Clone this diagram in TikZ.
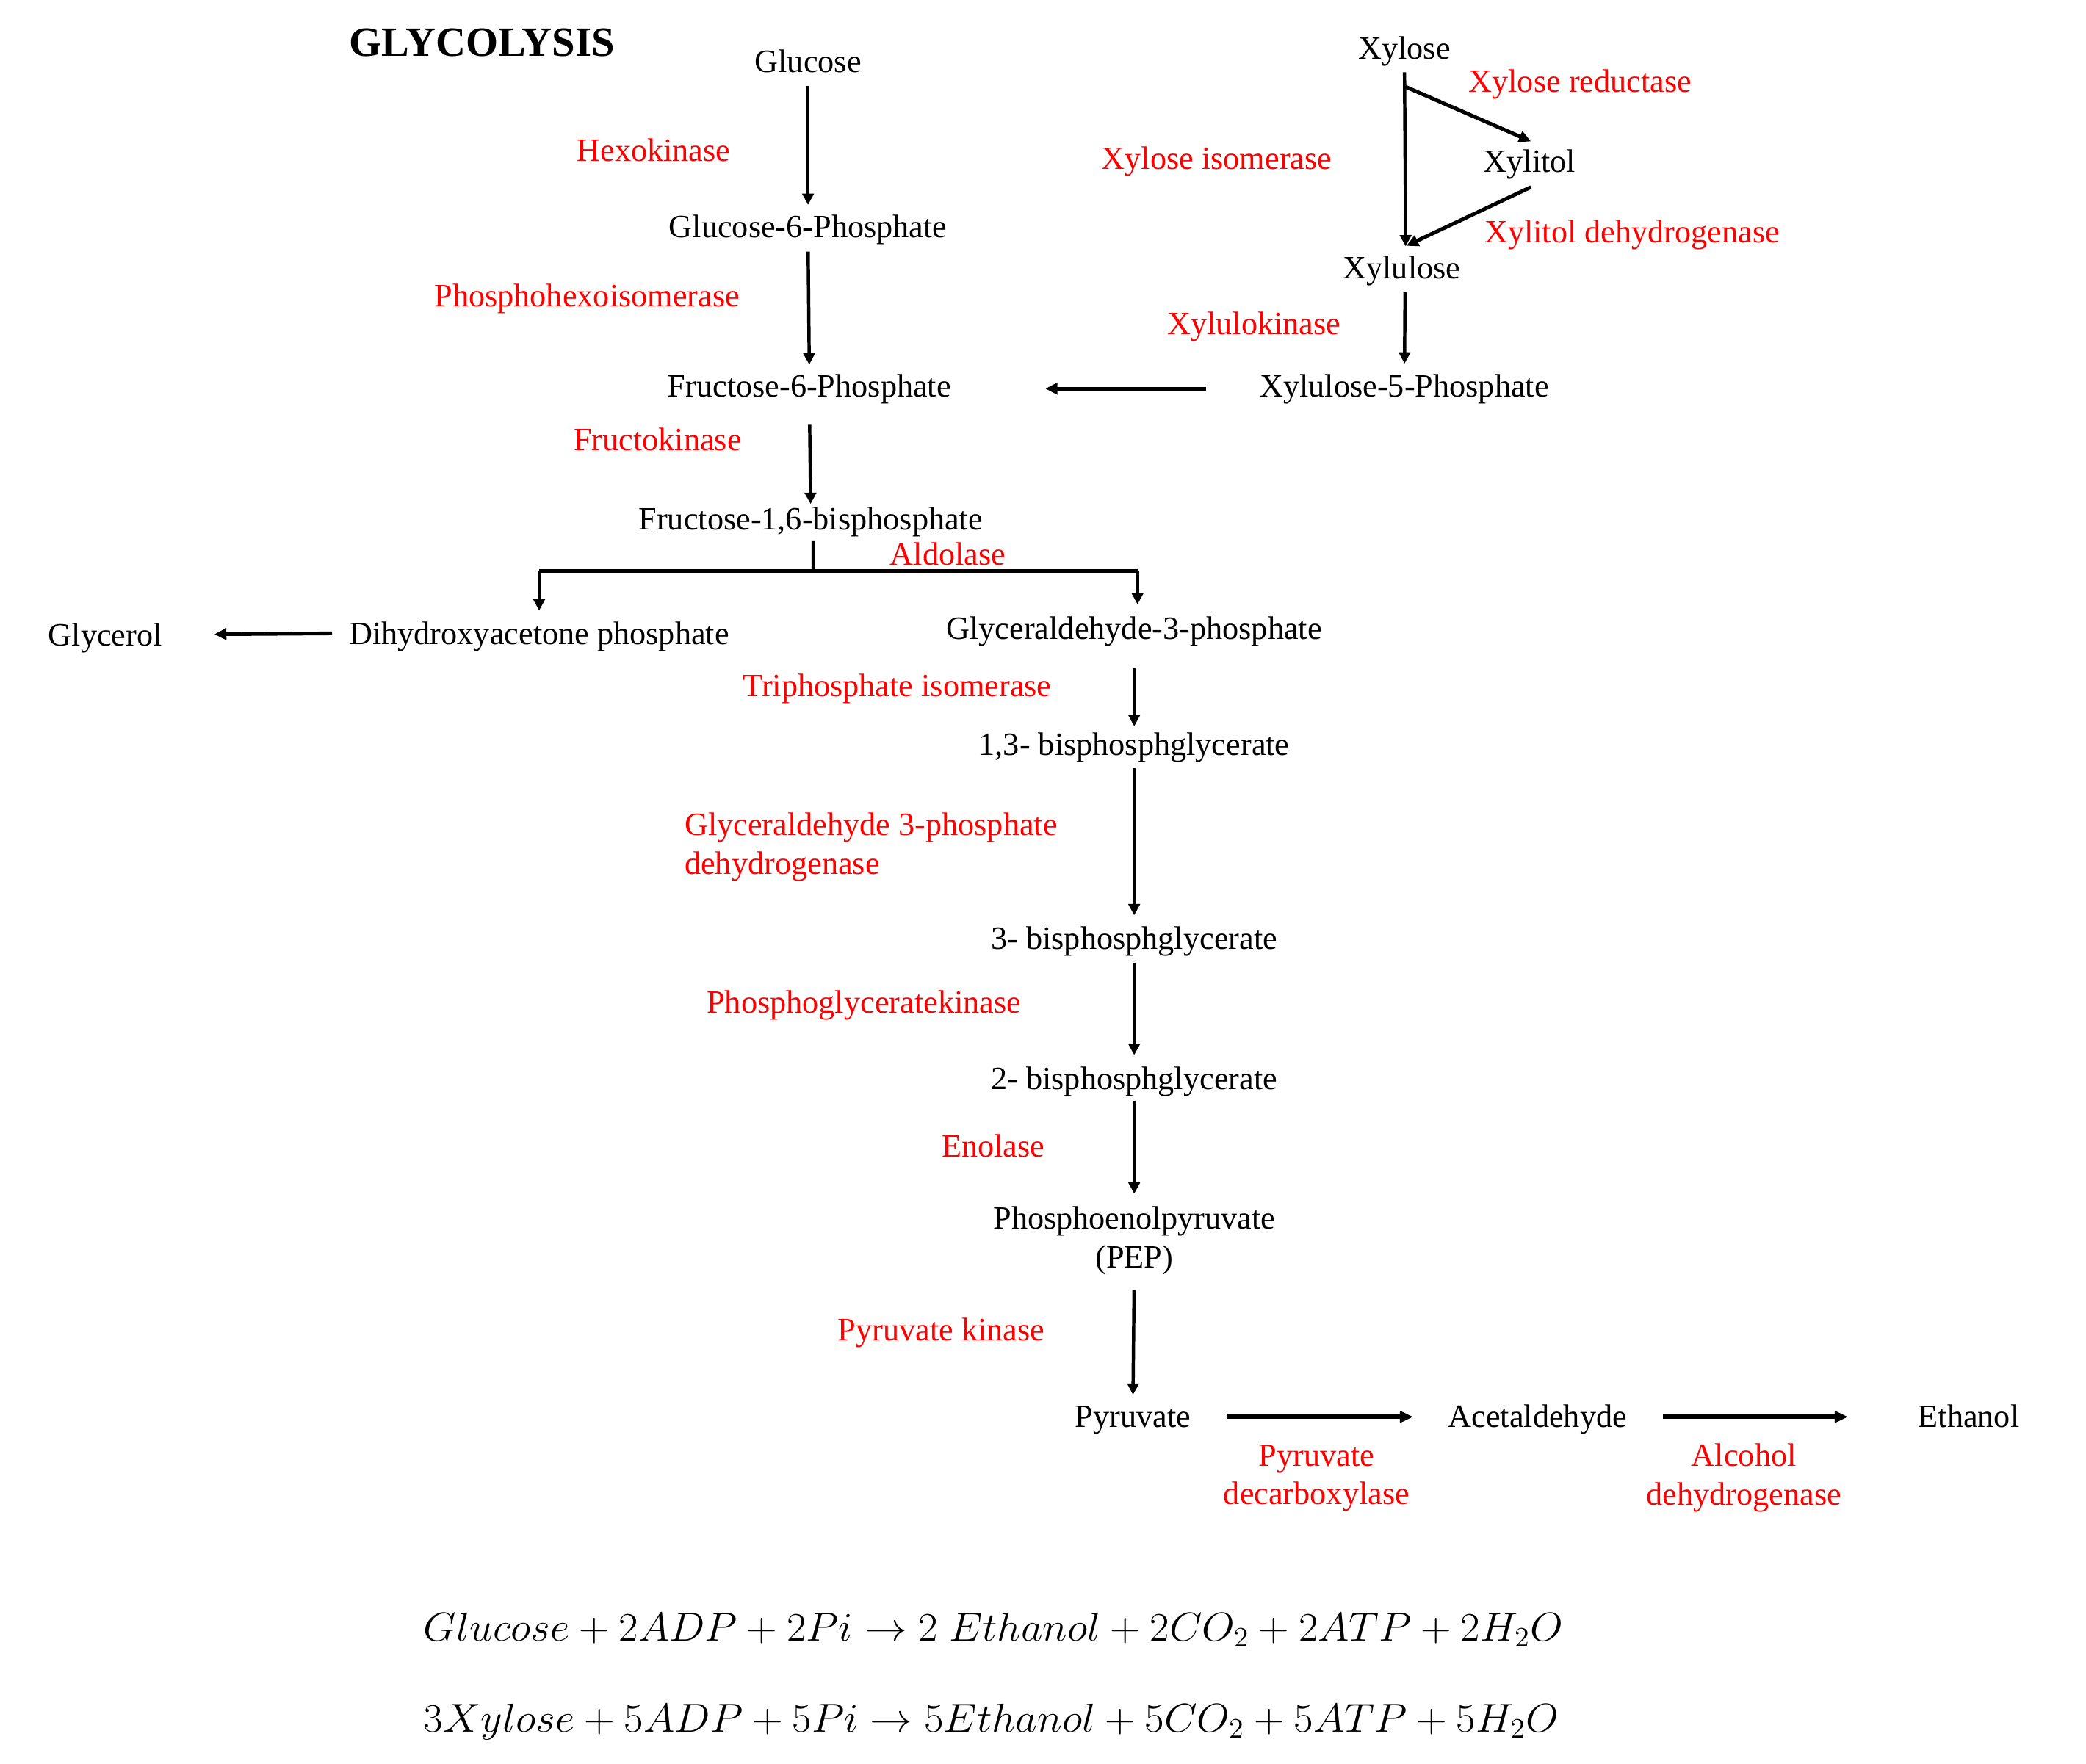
\documentclass[tikz,border=0pt]{standalone}
\usepackage{fontspec}
\setmainfont{Liberation Serif}
\usetikzlibrary{arrows.meta,calc}
\begin{document}
\begin{tikzpicture}[x=0.02cm,y=-0.02cm,
  lbl/.style={inner sep=0pt,font=\fontsize{13.9pt}{16.5pt}\selectfont,text height=0.8em,text depth=0.08em},
  mlbl/.style={inner sep=0pt,font=\fontsize{13.9pt}{16.5pt}\selectfont,align=center},
  enz/.style={lbl,text=red},
  menz/.style={mlbl,text=red},
  arr/.style={draw,line width=1.4pt,-{Triangle[length=0.17cm,width=0.17cm]}},
  arrd/.style={draw,line width=1.6pt,-{Triangle[length=0.18cm,width=0.17cm]}},
  arrT/.style={draw,line width=2pt,-{Triangle[length=0.2cm,width=0.17cm]}},
  bar/.style={draw,line width=1.5pt},
  eqn/.style={inner sep=0pt,anchor=west,font=\fontsize{18.2pt}{22pt}\selectfont}]
\path[use as bounding box] (0,0) rectangle (1567,1325);

% title
\node[inner sep=0pt,font=\fontsize{17.8pt}{20pt}\selectfont\bfseries] (title) at (362,32) {GLYCOLYSIS};

% glucose column
\node[lbl] (glc) at (607,48) {Glucose};
\node[lbl] (g6p) at (607,172) {Glucose-6-Phosphate};
\node[lbl] (f6p) at (608,292) {Fructose-6-Phosphate};
\node[lbl] (f16) at (609,392) {Fructose-1,6-bisphosphate};
\node[lbl] (dhap) at (405,478) {Dihydroxyacetone phosphate};
\node[lbl] (gly) at (79,479) {Glycerol};
\node[lbl] (g3p) at (852,474) {Glyceraldehyde-3-phosphate};
\node[lbl] (bpg13) at (852,561) {1,3- bisphosphglycerate};
\node[lbl] (bpg3) at (852,707) {3- bisphosphglycerate};
\node[lbl] (bpg2) at (852,812) {2- bisphosphglycerate};
\node[mlbl] (pep) at (852,932) {Phosphoenolpyruvate\\(PEP)};
\node[lbl] (pyr) at (851,1066) {Pyruvate};
\node[lbl] (acet) at (1155,1066) {Acetaldehyde};
\node[lbl] (eth) at (1479,1066) {Ethanol};

% xylose
\node[lbl] (xyl) at (1055,38) {Xylose};
\node[lbl] (xlt) at (1149,123) {Xylitol};
\node[lbl] (xylu) at (1053,203) {Xylulose};
\node[lbl] (x5p) at (1055,292) {Xylulose-5-Phosphate};

% enzymes
\node[enz] (hex) at (491,115) {Hexokinase};
\node[enz] (phi) at (441,224) {Phosphohexoisomerase};
\node[enz] (fk) at (494,332) {Fructokinase};
\node[enz] (ald) at (712,418) {Aldolase};
\node[enz] (tpi) at (674,517) {Triphosphate isomerase};
\node[menz,align=left,anchor=west] (gapdh) at (514,636.5) {Glyceraldehyde 3-phosphate\\dehydrogenase};
\node[enz] (pgk) at (649,755) {Phosphoglyceratekinase};
\node[enz] (eno) at (746,863) {Enolase};
\node[enz] (pk) at (707,1001) {Pyruvate kinase};
\node[menz] (pdc) at (989,1110.5) {Pyruvate\\decarboxylase};
\node[menz] (adh) at (1310,1110.5) {Alcohol\\dehydrogenase};
\node[enz] (xr) at (1187,63) {Xylose reductase};
\node[enz] (xi) at (914,121) {Xylose isomerase};
\node[enz] (xdh) at (1226,176) {Xylitol dehydrogenase};
\node[enz] (xk) at (942,245) {Xylulokinase};

% glucose column arrows
\draw[arr,shorten <=0.17cm,shorten >=0.2cm] (glc.south) -- (g6p.north);
\draw[arr,shorten <=0.18cm,shorten >=0.2cm] (g6p.south) -- (f6p.north);
\draw[arr,shorten <=0.38cm,shorten >=0.105cm] (f6p.south) -- (f16.north);

% aldolase branch
\coordinate (br) at (611,429);
\draw[bar,shorten <=0.12cm] ([xshift=0.04cm]f16.south) -- (br);
\draw[bar] (dhap.north |- br) -- ([xshift=0.05cm]g3p.north |- br);
\draw[arr,shorten >=0.225cm] (dhap.north |- br) -- (dhap.north);
\draw[arr,shorten >=0.237cm] ([xshift=0.05cm]g3p.north |- br) -- ([xshift=0.05cm]g3p.north);

% glycerol
\draw[arrd,shorten <=0.25cm,shorten >=0.78cm] ([yshift=0.045cm]dhap.west) -- ([yshift=0.045cm]gly.east);

% lower chain
\draw[arr,shorten <=0.4cm,shorten >=0.145cm] (g3p.south) -- (bpg13.north);
\draw[arr,shorten <=0.165cm,shorten >=0.225cm] (bpg13.south) -- (bpg3.north);
\draw[arr,shorten <=0.165cm,shorten >=0.225cm] (bpg3.south) -- (bpg2.north);
\draw[arr,shorten <=0.145cm,shorten >=0.185cm] (bpg2.south) -- (pep.north);
\draw[arr,shorten <=0.23cm,shorten >=0.2cm] (pep.south) -- (pyr.north);

% fermentation
\draw[arrT,shorten <=0.54cm,shorten >=0.52cm] ([yshift=0.03cm]pyr.east) -- ([yshift=0.03cm]acet.west);
\draw[arrT,shorten <=0.53cm,shorten >=1.05cm] ([yshift=0.03cm]acet.east) -- ([yshift=0.03cm]eth.west);

% xylose arrows
\draw[arr,shorten <=0.163cm,shorten >=0.197cm] (xyl.south) -- ([xshift=0.06cm]xylu.north);
\draw[arrd] ([yshift=-0.375cm]xyl.south) -- ([xshift=0.02cm,yshift=0.175cm]xlt.north);
\draw[arrd] ([xshift=0.02cm,yshift=-0.19cm]xlt.south) -- ([xshift=0.07cm,yshift=0.205cm]xylu.north);
\draw[arr,shorten <=0.17cm,shorten >=0.215cm] ([xshift=0.05cm]xylu.south) -- (x5p.north);
\draw[arrd,shorten <=0.8cm,shorten >=1.41cm] (x5p.west) -- (f6p.east);

% equations
\node[eqn] (eq1) at (318,1224.5) {\scalebox{1.047}[1]{$Glucose + 2ADP + 2Pi \rightarrow 2\ Ethanol + 2CO_2 + 2ATP + 2H_2O$}};
\node[eqn] (eq2) at (318,1293.5) {\scalebox{1.049}[1]{$3Xylose + 5ADP + 5Pi \rightarrow 5Ethanol + 5CO_2 + 5ATP + 5H_2O$}};
\end{tikzpicture}
\end{document}
